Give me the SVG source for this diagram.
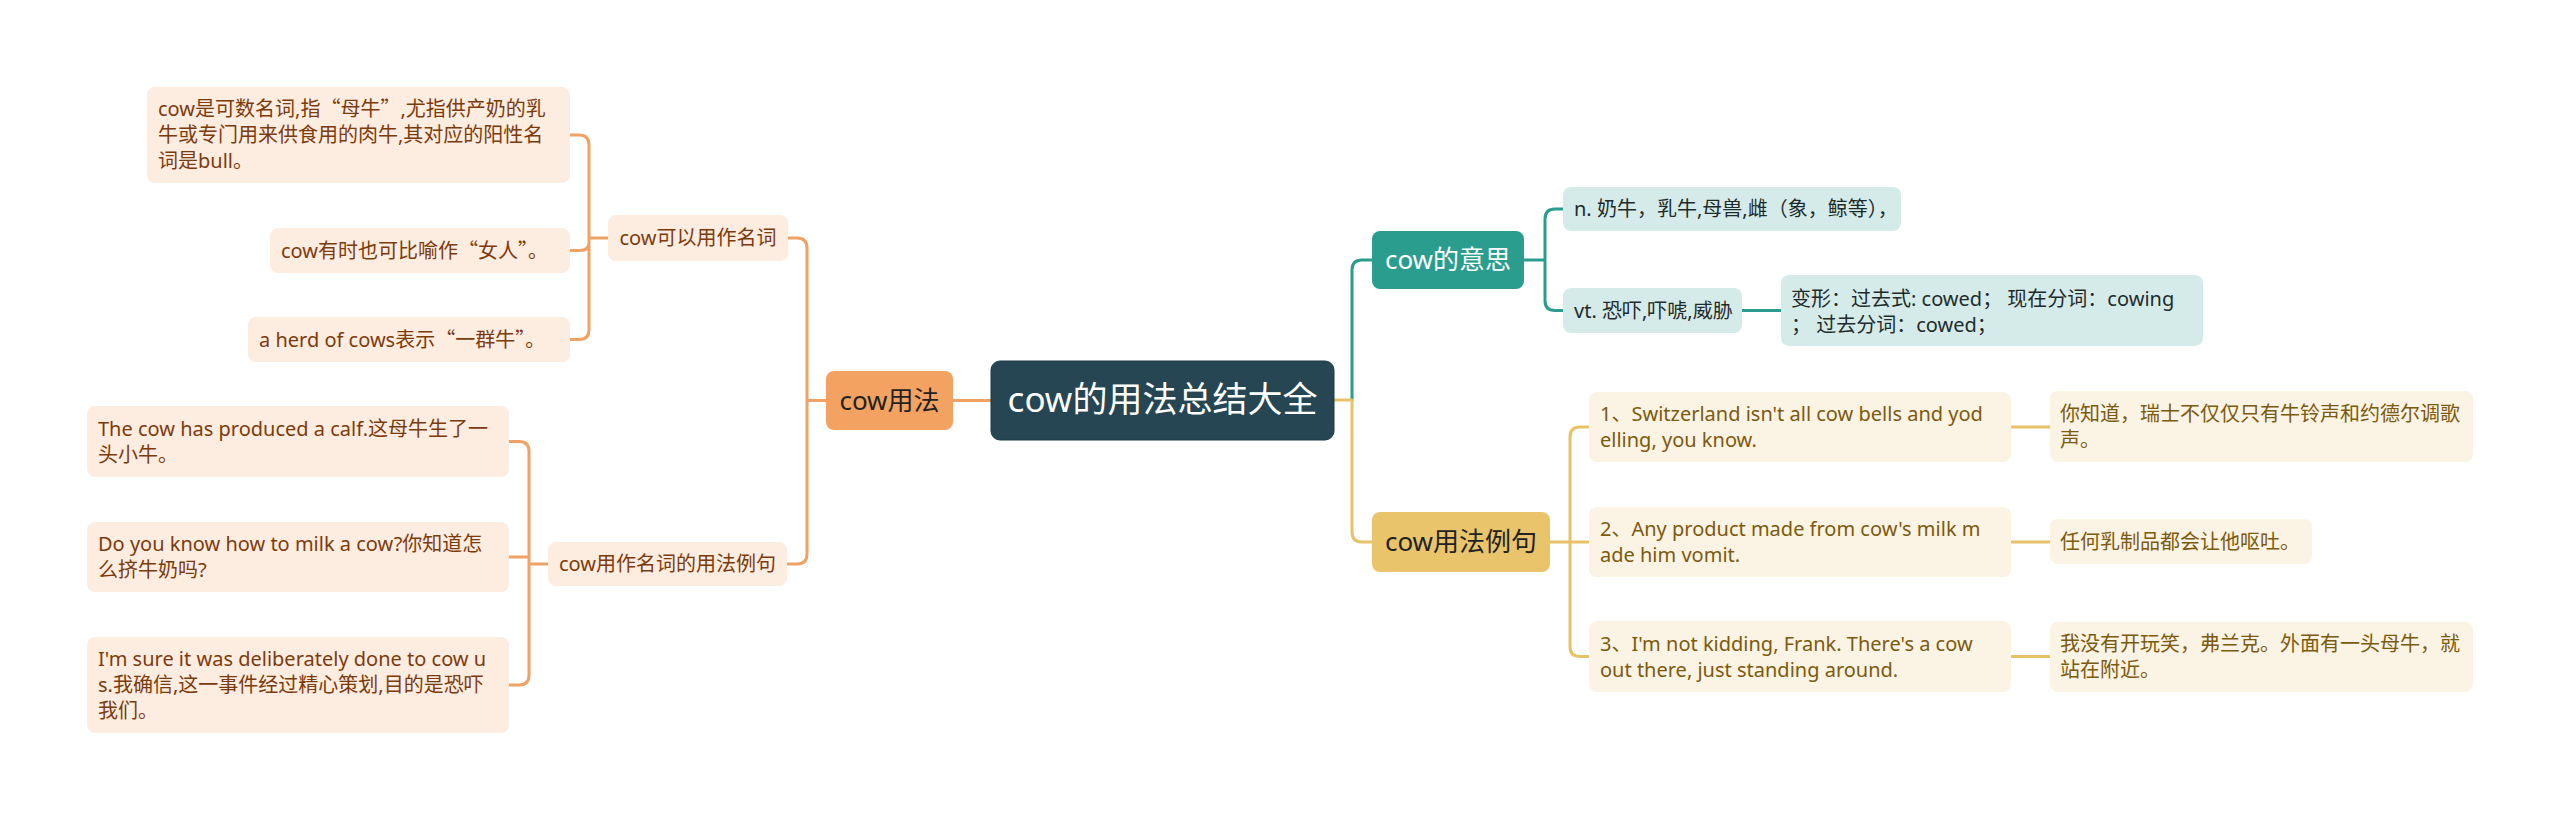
<svg xmlns="http://www.w3.org/2000/svg" width="2560" height="821" viewBox="0 0 2560 821">
<style>
text{font-family:"Noto Sans","Noto Sans CJK SC",sans-serif;}
.q{font-family:"Noto Sans CJK SC",sans-serif;}
.c{stroke-width:3;fill:none;stroke-linecap:round;stroke-linejoin:round;}
.co{stroke:#f0a265;}
.ct{stroke:#2a9d8f;}
.cy{stroke:#e7c266;}
.lo{fill:#fdece0;}
.ly{fill:#fbf3e3;}
.lt{fill:#d5ebe9;}
.to{fill:#7c3b0c;font-size:20px;}
.ty{fill:#7c5a0e;font-size:20px;}
.tt{fill:#1f2b2b;font-size:20px;}
.m{text-anchor:middle;}
.t1{font-size:26px;}
</style>
<rect width="2560" height="821" fill="#ffffff"/>
<g id="connectors">
<path class="c co" d="M826 400.5H807M788 238H797Q807 238 807 248V554Q807 564 797 564H787"/>
<path class="c co" d="M608 238H589M589 238V145Q589 135 579 135H570M589 238V242Q589 250.5 580 250.5H570M589 238V329.5Q589 339.5 579 339.5H570"/>
<path class="c co" d="M548 564H529M529 564V451.5Q529 441.5 519 441.5H509M529 564V557H509M529 564V675Q529 685 519 685H509"/>
<path class="c co" d="M953 400.5H991"/>
<path class="c ct" d="M1352 400V270Q1352 260 1362 260H1372"/>
<path class="c cy" d="M1334 400H1352V532Q1352 542 1362 542H1372"/>
<path class="c ct" d="M1524 260H1545M1545 260V219Q1545 209 1555 209H1563M1545 260V300.5Q1545 310.5 1555 310.5H1563M1742 310.5H1781"/>
<path class="c cy" d="M1550 542H1570M1570 542V437Q1570 427 1580 427H1589M1570 542H1589M1570 542V646.5Q1570 656.5 1580 656.5H1589"/>
<path class="c cy" d="M2011 427H2050M2011 542H2050M2011 656.5H2050"/>
</g>
<g id="root">
<rect x="991" y="361" width="343" height="79" rx="9" fill="#264653" stroke="#1c3a45" stroke-width="1"/>
<text x="1162.5" y="412" class="m" font-size="35" fill="#ffffff">cow的用法总结大全</text>
</g>
<g id="n-usage">
<rect x="826" y="371" width="127" height="59" rx="8" fill="#f4a261"/>
<text x="889.5" y="409.5" class="m t1" fill="#222222">cow用法</text>
</g>
<g id="n-noun">
<rect x="608" y="215" width="180" height="46" rx="8" class="lo"/>
<text x="698" y="245" class="m to">cow可以用作名词</text>
</g>
<g id="n-a1">
<rect x="147" y="87" width="423" height="96" rx="8" class="lo"/>
<text class="to"><tspan x="158" y="116">cow是可数名词,指<tspan class="q">“</tspan>母牛<tspan class="q">”</tspan>,尤指供产奶的乳</tspan><tspan x="158" y="142">牛或专门用来供食用的肉牛,其对应的阳性名</tspan><tspan x="158" y="168">词是bull。</tspan></text>
</g>
<g id="n-a2">
<rect x="270" y="228" width="300" height="45" rx="8" class="lo"/>
<text x="281" y="258" class="to">cow有时也可比喻作<tspan class="q">“</tspan>女人<tspan class="q">”</tspan>。</text>
</g>
<g id="n-a3">
<rect x="248" y="317" width="322" height="45" rx="8" class="lo"/>
<text x="259" y="347" class="to">a herd of cows表示<tspan class="q">“</tspan>一群牛<tspan class="q">”</tspan>。</text>
</g>
<g id="n-examples-left">
<rect x="548" y="542" width="239" height="44" rx="8" class="lo"/>
<text x="667.5" y="571" class="m to">cow用作名词的用法例句</text>
</g>
<g id="n-b1">
<rect x="87" y="406" width="422" height="71" rx="8" class="lo"/>
<text class="to"><tspan x="98" y="436">The cow has produced a calf.这母牛生了一</tspan><tspan x="98" y="462">头小牛。</tspan></text>
</g>
<g id="n-b2">
<rect x="87" y="522" width="422" height="70" rx="8" class="lo"/>
<text class="to"><tspan x="98" y="551">Do you know how to milk a cow?你知道怎</tspan><tspan x="98" y="577">么挤牛奶吗?</tspan></text>
</g>
<g id="n-b3">
<rect x="87" y="637" width="422" height="96" rx="8" class="lo"/>
<text class="to"><tspan x="98" y="666">I'm sure it was deliberately done to cow u</tspan><tspan x="98" y="692">s.我确信,这一事件经过精心策划,目的是恐吓</tspan><tspan x="98" y="718">我们。</tspan></text>
</g>
<g id="n-meaning">
<rect x="1372" y="231" width="152" height="58" rx="8" fill="#2a9d8f"/>
<text x="1448" y="269" class="m t1" fill="#ffffff">cow的意思</text>
</g>
<g id="n-n">
<rect x="1563" y="187" width="338" height="44" rx="8" class="lt"/>
<text x="1574" y="216" class="tt">n. 奶牛，乳牛,母兽,雌（象，鲸等），</text>
</g>
<g id="n-vt">
<rect x="1563" y="288" width="179" height="45" rx="8" class="lt"/>
<text x="1574" y="317.5" class="tt">vt. 恐吓,吓唬,威胁</text>
</g>
<g id="n-forms">
<rect x="1781" y="275" width="422" height="71" rx="8" class="lt"/>
<text class="tt"><tspan x="1791" y="305.5">变形：过去式: cowed； 现在分词：cowing</tspan><tspan x="1791" y="331.5">； 过去分词：cowed；</tspan></text>
</g>
<g id="n-examples-right">
<rect x="1372" y="512" width="178" height="60" rx="8" fill="#e9c46a"/>
<text x="1461" y="551" class="m t1" fill="#222222">cow用法例句</text>
</g>
<g id="n-c1">
<rect x="1589" y="392" width="422" height="70" rx="8" class="ly"/>
<text class="ty"><tspan x="1600" y="421">1、Switzerland isn't all cow bells and yod</tspan><tspan x="1600" y="447">elling, you know.</tspan></text>
</g>
<g id="n-c2">
<rect x="1589" y="507" width="422" height="70" rx="8" class="ly"/>
<text class="ty"><tspan x="1600" y="536">2、Any product made from cow's milk m</tspan><tspan x="1600" y="562">ade him vomit.</tspan></text>
</g>
<g id="n-c3">
<rect x="1589" y="621" width="422" height="71" rx="8" class="ly"/>
<text class="ty"><tspan x="1600" y="650.5">3、I'm not kidding, Frank. There's a cow</tspan><tspan x="1600" y="676.5">out there, just standing around.</tspan></text>
</g>
<g id="n-d1">
<rect x="2050" y="391" width="423" height="71" rx="8" class="ly"/>
<text class="ty"><tspan x="2060" y="420.5">你知道，瑞士不仅仅只有牛铃声和约德尔调歌</tspan><tspan x="2060" y="446.5">声。</tspan></text>
</g>
<g id="n-d2">
<rect x="2050" y="519" width="262" height="45" rx="8" class="ly"/>
<text x="2060" y="548.5" class="ty">任何乳制品都会让他呕吐。</text>
</g>
<g id="n-d3">
<rect x="2050" y="622" width="423" height="70" rx="8" class="ly"/>
<text class="ty"><tspan x="2060" y="651">我没有开玩笑，弗兰克。外面有一头母牛，就</tspan><tspan x="2060" y="677">站在附近。</tspan></text>
</g>
</svg>
